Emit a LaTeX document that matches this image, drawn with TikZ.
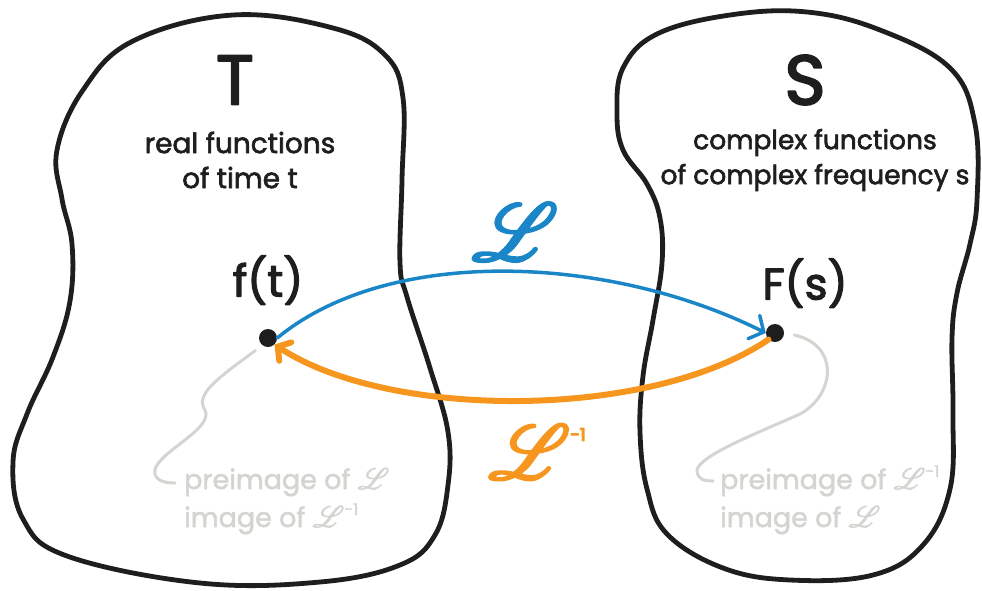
\documentclass[tikz,border=0pt]{standalone}
\usepackage{fontspec}
\setmainfont{Poppins}
\usepackage{mathrsfs}
\usepackage{graphicx}
\usetikzlibrary{arrows.meta}
\definecolor{ink}{HTML}{1E1E1E}
\definecolor{lblue}{HTML}{1A86C8}
\definecolor{lorange}{HTML}{F7961E}
\definecolor{lgray}{HTML}{D4D4D0}
\newcommand{\heavy}[2]{\special{pdf:code q 2 Tr #1 w 1 J 1 j}#2\special{pdf:code Q}}
\newcommand{\Lap}[2]{\scalebox{#1}{\heavy{#2}{$\mathscr{L}$}}}
\newcommand{\Lapi}[5]{\scalebox{#1}{\heavy{#2}{$\mathscr{L}$}}\raisebox{#3}{\scalebox{#4}{\heavy{#5}{-1}}}}
\newcommand{\nLap}{\raisebox{0pt}[0.7em][0pt]{\Lap{1.2}{0.5}}}
\newcommand{\nLapi}{\raisebox{0pt}[0.7em][0pt]{\Lapi{1.2}{0.5}{12pt}{0.6}{0.5}}}
\begin{document}
\begin{tikzpicture}[x=1pt,y=-1pt,
  blob/.style={draw=ink,line width=4.8pt,line join=round},
  dot/.style={circle,fill=ink,inner sep=0pt,minimum size=18pt},
  big/.style={font=\fontsize{70}{70}\selectfont,text=ink},
  desc/.style={font=\fontsize{28}{35}\selectfont,text=ink,align=center},
  fn/.style={font=\fontsize{44}{44}\selectfont,text=ink},
  note/.style={font=\fontsize{27}{33}\selectfont,text=lgray,anchor=base west,inner sep=0pt},
  lead/.style={draw=lgray,line width=3pt,line cap=round},
]
\useasboundingbox (0,0) rectangle (982,590);
% blobs
\draw[blob] plot[smooth cycle,tension=0.65] coordinates {
 (233,15) (333,28) (385,55) (403,98) (402,180) (400,263) (407,297) (430,368)
 (448,432) (448,485) (435,535) (400,565) (320,582) (200,583) (67,556) (23,519)
 (13,462) (27,414) (53,357) (70,301) (72,244) (62,199) (57,150) (83,90) (133,41)};
\draw[blob] plot[smooth cycle,tension=0.65] coordinates {
 (807,12) (880,30) (950,68) (975,124) (977,200) (970,244) (957,293) (952,338)
 (953,414) (950,489) (923,545) (873,575) (790,580) (723,568) (667,534) (647,489)
 (640,432) (643,376) (653,320) (662,263) (660,218) (647,184) (623,150) (617,113)
 (623,68) (657,34) (730,15)};
% titles
\node[big] (T) at (235,80) {\heavy{2}{T}};
\node[big] (S) at (805,80) {\heavy{2}{S}};
\node[desc] (Td) at (240,160) {\heavy{0.6}{real functions}\\\heavy{0.6}{of time t}};
\node[desc,font=\fontsize{26.5}{35}\selectfont] (Sd) at (815,160) {\heavy{0.6}{complex functions}\\\heavy{0.6}{of complex frequency s}};
% points
\node[dot] (ft) at (268,338) {};
\node[dot] (Fs) at (775,333) {};
\node[fn] (ftl) at (268,280) {\heavy{1.2}{f(t)}};
\node[fn] (Fsl) at (805,283) {\heavy{1.2}{F(s)}};
% arrows
\draw[lblue,line width=3.5pt,line cap=round,-{Straight Barb[length=11pt,width=26pt,line cap=round]}]
  (ft.east) .. controls (390,245) and (610,255) .. (Fs.west);
\draw[lorange,line width=6pt,line cap=round,-{Straight Barb[length=9pt,width=22pt,line cap=round]}]
  (Fs.south west) .. controls (650,420) and (390,420) .. (ft.south east);
\node[text=lblue,font=\fontsize{22}{22}\selectfont] (L) at (515,232) {\Lap{3.9}{0.7}};
\node[text=lorange,font=\fontsize{22}{22}\selectfont] (Li) at (537,452) {\Lapi{3.7}{0.7}{38pt}{0.8}{1.5}};
% notes
\node[note] (nl1) at (184,489) {\heavy{0.5}{preimage of }\nLap};
\node[note] (nl2) at (184,527) {\heavy{0.5}{image of }\nLapi};
\node[note] (nr1) at (720,489) {\heavy{0.5}{preimage of }\nLapi};
\node[note] (nr2) at (720,527) {\heavy{0.5}{image of }\nLap};
\coordinate (nlE) at (175,483);
\coordinate (nrE) at (713,481);
\draw[lead] (ft.south west) ++(-6,6) coordinate (a) (a) .. controls (215,380) and (195,395) .. (205,410)
  .. controls (215,430) and (150,455) .. (155,474) .. controls (157,482) and (168,483) .. (nlE);
\draw[lead] (Fs.east) ++(10,2) coordinate (b) (b) .. controls (840,345) and (835,395) .. (800,414)
  .. controls (760,432) and (700,455) .. (697,470) .. controls (697,480) and (705,481) .. (nrE);
\end{tikzpicture}
\end{document}
